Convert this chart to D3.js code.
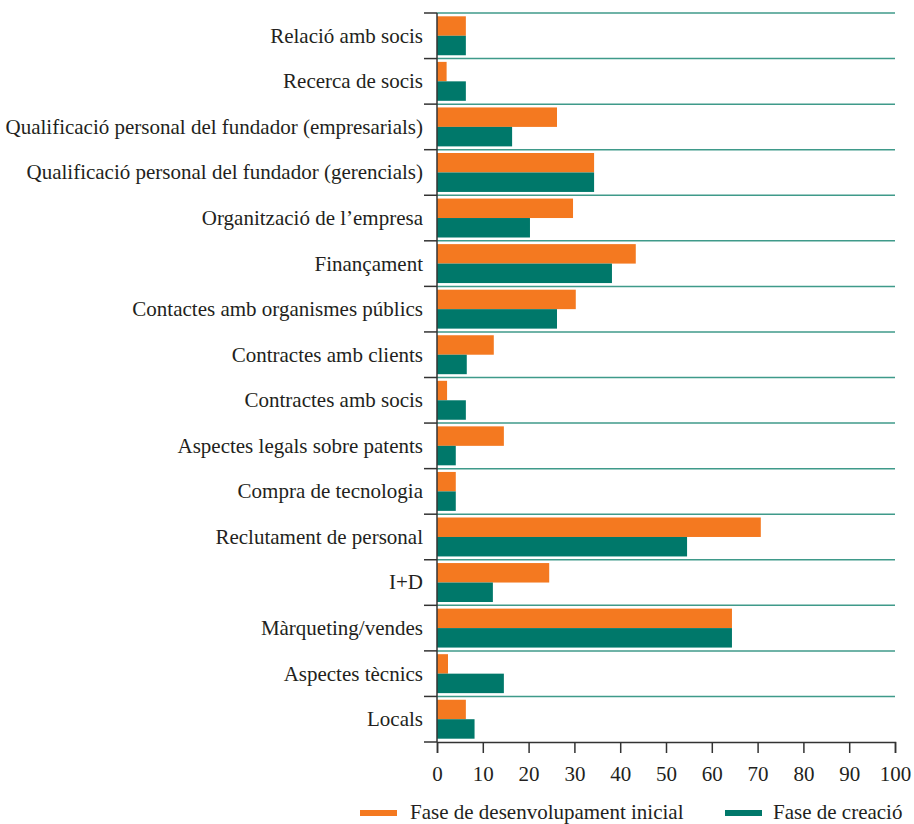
<!DOCTYPE html>
<html><head><meta charset="utf-8">
<script src="https://cdn.jsdelivr.net/npm/d3@7"></script>
<style>
body{margin:0;background:#fff;}
text{font-family:"Liberation Serif","Times New Roman",serif;fill:#231f20;}
</style></head>
<body><svg id="chart" width="914" height="824"></svg>
<script>
const categories = ["Relació amb socis","Recerca de socis","Qualificació personal del fundador (empresarials)","Qualificació personal del fundador (gerencials)","Organització de l’empresa","Finançament","Contactes amb organismes públics","Contractes amb clients","Contractes amb socis","Aspectes legals sobre patents","Compra de tecnologia","Reclutament de personal","I+D","Màrqueting/vendes","Aspectes tècnics","Locals"];
const inicial = [6.3,2.1,26.2,34.3,29.7,43.4,30.3,12.4,2.2,14.6,4.1,70.7,24.5,64.4,2.4,6.3];
const creacio = [6.3,6.3,16.4,34.3,20.3,38.2,26.2,6.5,6.3,4.1,4.1,54.6,12.2,64.4,14.6,8.2];
const seriesNames = ["Fase de desenvolupament inicial","Fase de creació"];
const colors = ["#f47920","#00786a"];
const xTicks = [0,10,20,30,40,50,60,70,80,90,100];

(function(){
const FS = 21;
const svg = d3.select("#chart");
const mL = 437, mR = 895, mT = 13, mB = 742;
const x = d3.scaleLinear().domain([0,100]).range([mL,mR]);
const y = d3.scaleBand().domain(categories).range([mT,mB]).paddingInner(0).paddingOuter(0);
const inner = d3.scaleBand().domain([0,1]).range([0,y.bandwidth()]).paddingOuter(0.17).paddingInner(0);

const bounds = categories.map(c=>y(c)).concat([mB]);
svg.append("g").selectAll("line").data(bounds.slice(0,-1)).join("line")
  .attr("x1",mL).attr("x2",mR).attr("y1",d=>d).attr("y2",d=>d)
  .attr("stroke","#3f9a8a").attr("stroke-width",1.5);

const data = categories.map((c,i)=>({c,vals:[inicial[i],creacio[i]]}));
const g = svg.append("g").selectAll("g").data(data).join("g")
  .attr("transform",d=>`translate(0,${y(d.c)})`);
g.selectAll("rect").data(d=>d.vals.map((v,k)=>({v,k}))).join("rect")
  .attr("x",x(0)).attr("y",d=>inner(d.k)).attr("height",inner.bandwidth())
  .attr("width",d=>x(d.v)-x(0)).attr("fill",d=>colors[d.k]);

svg.append("line").attr("x1",mL).attr("x2",mL).attr("y1",mT).attr("y2",mB)
  .attr("stroke","#333").attr("stroke-width",1.5);
svg.append("g").selectAll("line").data(bounds).join("line")
  .attr("x1",mL-13).attr("x2",mL).attr("y1",d=>d).attr("y2",d=>d)
  .attr("stroke","#333").attr("stroke-width",1.5);

svg.append("g").selectAll("text").data(categories).join("text")
  .attr("x",423).attr("y",d=>y(d)+y.bandwidth()/2).attr("dy","0.33em")
  .attr("text-anchor","end").attr("font-size",FS).text(d=>d);

const xAxis = d3.axisBottom(x).tickValues(xTicks).tickSize(11).tickPadding(13).tickFormat(d3.format("d"));
const ax = svg.append("g").attr("transform",`translate(0,${mB})`).call(xAxis);
ax.select(".domain").attr("stroke","#333").attr("stroke-width",1.5);
ax.selectAll(".tick line").attr("stroke","#333").attr("stroke-width",1.5);
ax.selectAll(".tick text").attr("font-size",FS).attr("fill","#231f20");

const legendItems = [{x:360,tx:410},{x:725,tx:773}];
const lg = svg.append("g").selectAll("g").data(seriesNames).join("g");
lg.append("rect").attr("x",(d,i)=>legendItems[i].x).attr("y",810).attr("width",37).attr("height",6)
  .attr("fill",(d,i)=>colors[i]);
lg.append("text").attr("x",(d,i)=>legendItems[i].tx).attr("y",819)
  .attr("font-size",FS).text(d=>d);
})();
</script></body></html>
